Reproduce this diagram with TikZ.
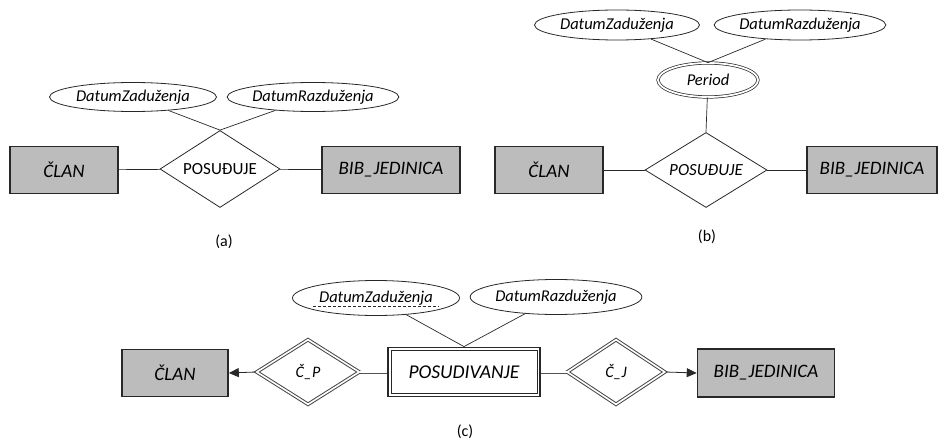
\documentclass[tikz,border=0pt]{standalone}
\usepackage{fontspec}
\setmainfont{Carlito}
\usetikzlibrary{shapes.geometric,arrows.meta}
\definecolor{entfill}{RGB}{188,188,188}
\definecolor{ink}{RGB}{40,40,40}
\tikzset{
  entity/.style={draw=ink, line width=1.6pt, fill=entfill, inner sep=0pt,
    font=\itshape\fontsize{19}{19}\selectfont},
  weakentity/.style={draw=ink, line width=1.8pt, fill=white, inner sep=0pt,
    font=\itshape\fontsize{19.5}{19.5}\selectfont},
  rel/.style={diamond, shape aspect=1.55, draw=ink, line width=0.8pt, fill=white, inner sep=0pt,
    font=\fontsize{17}{17}\selectfont},
  weakrel/.style={diamond, shape aspect=1.55, draw=ink!85, line width=1pt, double=white,
    double distance=1.6pt, fill=white, inner sep=0pt, font=\itshape\fontsize{16}{16}\selectfont},
  attr/.style={ellipse, draw=ink, line width=0.8pt, fill=white, inner sep=0pt,
    font=\itshape\fontsize{16.5}{16.5}\selectfont},
  multiattr/.style={ellipse, draw=ink, line width=0.7pt, double=white, double distance=1.8pt,
    fill=white, inner sep=0pt, font=\itshape\fontsize{16.5}{16.5}\selectfont},
  link/.style={draw=ink, line width=0.7pt},
  totallink/.style={draw=ink!80, line width=0.6pt, double=white, double distance=1.8pt},
  keylink/.style={draw=ink, line width=0.8pt, -{Triangle[length=10pt,width=9pt]}},
  caption/.style={font=\fontsize{16}{16}\selectfont}
}
\begin{document}
\begin{tikzpicture}[x=1pt,y=-1pt]
\useasboundingbox (0,0) rectangle (939,441);

% ---------- (a) ----------
\node[entity, minimum width=108pt, minimum height=47pt] (clanA) at (64,170) {ČLAN};
\node[rel, minimum width=120pt, minimum height=77pt] (posA) at (220,169) {POSUĐUJE};
\node[entity, minimum width=138pt, minimum height=47pt] (bibA) at (391,170) {BIB\_JEDINICA};
\node[attr, minimum width=167pt, minimum height=29pt] (dzA) at (133,97) {DatumZaduženja};
\node[attr, minimum width=167pt, minimum height=29pt] (drA) at (313,97) {DatumRazduženja};
\draw[link] (clanA) -- (posA);
\draw[link] (posA) -- (bibA);
\draw[link] (dzA) -- (posA.north);
\draw[link] (drA) -- (posA.north);
\node[caption] (capA) at (224,242) {(a)};

% ---------- (b) ----------
\node[entity, minimum width=108pt, minimum height=47pt] (clanB) at (549,170) {ČLAN};
\node[rel, minimum width=122pt, minimum height=75pt, font=\itshape\fontsize{17}{17}\selectfont] (posB) at (706,170) {POSUĐUJE};
\node[entity, minimum width=130pt, minimum height=47pt] (bibB) at (872,170) {BIB\_JEDINICA};
\node[multiattr, minimum width=100pt, minimum height=34pt] (perB) at (708,80) {Period};
\node[attr, minimum width=165pt, minimum height=30pt] (dzB) at (617,25) {DatumZaduženja};
\node[attr, minimum width=165pt, minimum height=30pt] (drB) at (800,25) {DatumRazduženja};
\draw[link] (clanB) -- (posB);
\draw[link] (posB) -- (bibB);
\draw[link] (perB) -- (posB.north);
\draw[link] (dzB) -- (perB.north);
\draw[link] (drB) -- (perB.north);
\node[caption] (capB) at (707,237) {(b)};

% ---------- (c) ----------
\node[entity, minimum width=106pt, minimum height=47pt] (clanC) at (175,373) {ČLAN};
\node[weakrel, minimum width=103pt, minimum height=65pt] (cpC) at (308,372) {Č\_P};
\node[weakentity, minimum width=152pt, minimum height=49pt] (posC) at (464,372) {POSUDIVANJE};
% inner border of the weak entity
\draw[ink, line width=0.8pt]
  ([shift={(4pt,-4pt)}]posC.north west) rectangle ([shift={(-4pt,4pt)}]posC.south east);
\node[weakrel, minimum width=98pt, minimum height=65pt] (cjC) at (616,372) {Č\_J};
\node[entity, minimum width=137pt, minimum height=48pt] (bibC) at (766,373) {BIB\_JEDINICA};
\node[attr, minimum width=167pt, minimum height=35pt] (dzC) at (376,298) {DatumZaduženja};
\node[attr, minimum width=168pt, minimum height=35pt] (drC) at (556,297) {DatumRazduženja};
% partial key of the weak entity
\draw[ink, line width=0.7pt, dashed, dash pattern=on 3pt off 2pt]
  ([xshift=-63pt,yshift=-8pt]dzC.center) -- ([xshift=63pt,yshift=-8pt]dzC.center);
\draw[link] (dzC) -- (posC.north);
\draw[link] (drC) -- (posC.north);
\draw[totallink] (cpC.east) -- (posC.west);
\draw[totallink] (posC.east) -- (cjC.west);
\draw[keylink] (cpC.west) -- (clanC.east);
\draw[keylink] (cjC.east) -- (bibC.west);
\node[caption] (capC) at (465,432) {(c)};
\end{tikzpicture}
\end{document}
